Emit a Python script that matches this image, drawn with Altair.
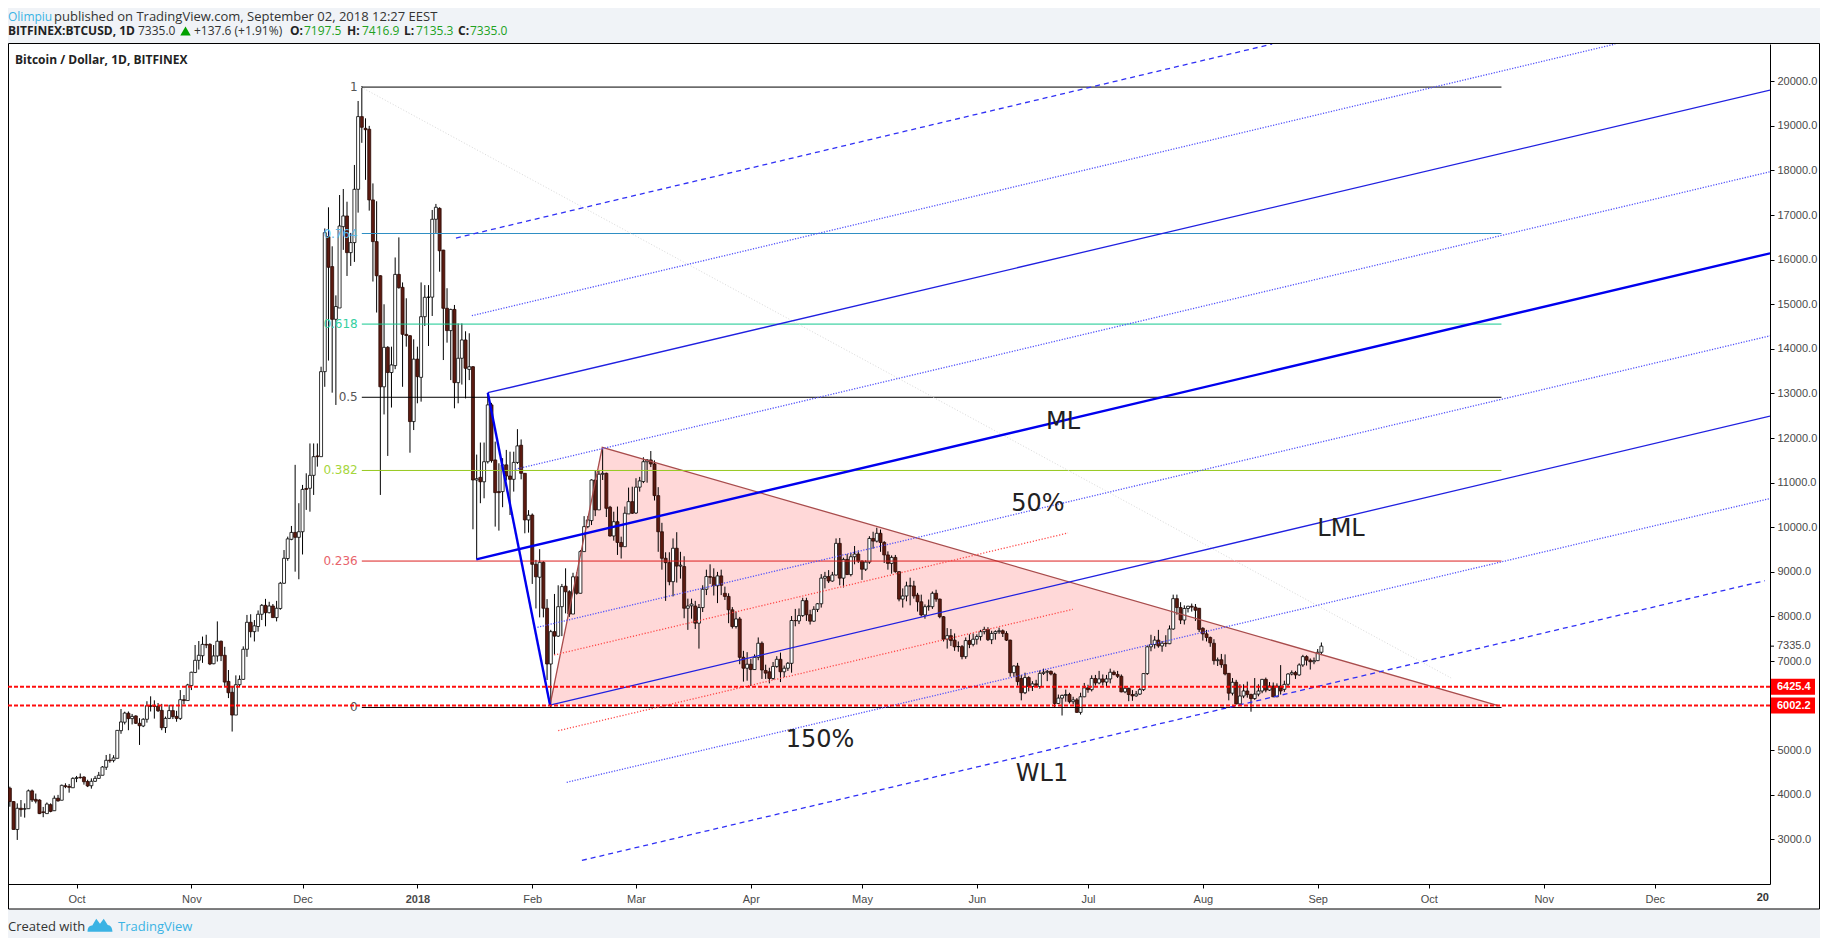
import altair as alt
import pandas as pd

# ---------- daily candles: (open, high, low, close), first bar 2017-09-13 ----------
sep17 = [(4150,4185,3735,3850),(3850,3860,3225,3225),(3225,3810,2990,3700),(3700,3885,3510,3670),(3680,3810,3490,3690),
(3690,4120,3690,4090),(4090,4120,3840,3885),(3900,4030,3810,3860),(3885,3900,3570,3580),(3620,3730,3500,3605),
(3580,3830,3580,3795),(3780,3810,3610,3630),(3645,3985,3645,3925),(3925,4000,3850,3865),(3880,4230,3880,4215),
(4205,4260,4150,4185),(4190,4245,4050,4170),(4160,4395,4160,4370)]
oct17 = [(4370,4425,4285,4385),(4395,4480,4365,4385),(4400,4420,4230,4295),(4300,4340,4175,4200),(4205,4370,4140,4305),
(4305,4425,4290,4370),(4370,4515,4365,4440),(4440,4645,4440,4625),(4620,4895,4560,4775),(4780,4920,4720,4765),
(4775,4890,4730,4828),(4820,5450,4820,5447),(5440,5925,5370,5635),(5630,5865,5580,5835),(5830,5870,5450,5710),
(5710,5815,5580,5760),(5770,5785,5590,5605),(5605,5720,5120,5550),(5545,5720,5520,5695),(5695,6100,5620,6000),
(6000,6210,5870,5985),(5990,6120,5710,5985),(5990,6060,5860,5885),(5895,6040,5450,5505),(5510,5755,5390,5715),
(5715,6020,5700,5890),(5890,6015,5700,5755),(5760,5885,5640,5715),(5715,6350,5680,6135),(6135,6240,6030,6115),
(6115,6490,6115,6465)]
nov17 = [(6450,6760,6350,6750),(6745,7361,6730,7017),(7017,7450,6810,7130),(7120,7550,6960,7375),(7375,7590,7290,7360),
(7375,7400,6910,6935),(6940,7360,6930,7115),(7115,7890,6990,7445),(7445,7460,7000,7120),(7130,7320,6430,6530),
(6545,6800,6170,6290),(6300,6430,5420,5790),(5790,6680,5790,6470),(6470,6680,6420,6590),(6590,7330,6580,7265),
(7265,8035,7095,7870),(7870,8050,7530,7660),(7660,7920,7440,7790),(7775,8135,7660,8050),(8050,8280,7920,8250),
(8250,8395,7780,8085),(8085,8330,8070,8235),(8235,8280,7975,7975),(7975,8350,7890,8185),(8180,8775,8150,8745),
(8745,9490,8730,9305),(9300,9790,9250,9740),(9730,10030,9710,9885),(9885,11400,9005,9775),(9775,10540,8835,9900)]
dec17 = [(9900,10950,9390,10850),(10870,11210,10390,10850),(10875,11880,10350,11165),(11165,11880,10725,11583),(11600,11880,11360,11583),
(11583,13600,11583,13490),(13490,16700,13150,16606),(16516,17174,13738,15830),(15845,16300,13018,14663),(14663,15200,12743,14950),
(14917,17450,14917,16755),(16740,17585,16220,16980),(16980,17300,15635,16158),(16158,16600,15860,16383),(16383,18124,15950,17578),
(17578,19558,17055,19208),(19208,19891,18620,18969),(18945,19170,17790,18915),(18925,19000,17100,17340),(17340,17710,15510,16405),
(16405,17310,14815,15640),(15640,15650,10725,13150),(13150,15000,12530,14035),(14035,14060,11600,13470),(13470,14050,12685,13640),
(13625,16050,13545,15670),(15670,16500,15350,15372),(15380,15490,13150,14327),(14325,15135,14050,14300),(14295,14310,11672,12370),
(12370,14215,12180,13770)]
jan18 = [(13770,14050,12780,13378),(13362,15490,12817,14722),(14722,15430,14514,15157),(15157,15430,14065,15160),(15160,17115,14738,16906),
(16906,17250,16600,17175),(17150,17175,15730,16200),(16215,16220,13750,14910),(14910,15360,14140,14410),(14410,14900,13300,14885),
(14885,14985,12668,13243),(13243,14570,12780,13790),(13790,14570,13200,14200),(14200,14395,12890,13565),(13540,14350,13300,13600),
(13600,13615,9955,11060),(11060,11630,9281,11090),(11120,11900,10540,11020),(11020,11900,10650,11470),(11470,13000,11430,12745),
(12745,12790,11450,11495),(11510,11920,10015,10777),(10800,11435,9925,10777),(10800,11550,10450,11400),(11400,11735,11050,11150),
(11150,11695,10275,11075),(11075,11695,10800,11455),(11455,12200,11420,11825),(11840,11970,11075,11210),(11210,11210,9865,10165),
(10165,10385,9880,10270)]
feb18 = [(10275,10310,8730,9170),(9170,9270,8180,8890),(8880,9510,7980,9215),(9215,9240,7980,8185),(8185,8390,6575,6935),
(6935,7700,5970,7660),(7660,8505,7135,7560),(7560,8700,7540,8220),(8220,8730,7560,8670),(8680,9080,8070,8555),
(8555,8590,7990,8055),(8055,8980,8055,8890),(8890,8990,8490,8520),(8520,9490,8520,9455),(9455,10250,9455,10015),
(10015,10250,9980,10165),(10150,11075,10050,11060),(11060,11270,10250,10390),(10390,11270,10390,11190),(11190,11770,11060,11210),
(11210,11225,10230,10425),(10450,10480,9790,9805),(9805,10350,9700,10125),(10125,10465,9380,9660),(9660,9790,9300,9565),
(9565,10465,9565,10315),(10300,10890,10300,10575),(10575,10910,10300,10315)]
mar18 = [(10320,11100,10300,10900),(10900,11130,10800,11040),(11025,11570,10990,11470),(11470,11530,11000,11510),(11510,11710,11350,11420),
(11420,11500,10600,10710),(10710,10900,9450,9900),(9900,10100,9050,9305),(9305,9440,8350,9207),(9207,9440,8700,8780),
(8780,9750,8450,9530),(9530,9890,8760,9130),(9130,9450,8850,9150),(9120,9350,7960,8185),(8185,8400,7700,8235),
(8240,8400,7950,8280),(8235,8350,7720,7850),(7850,8280,7280,8200),(8200,8700,8100,8610),(8610,9050,8480,8895),
(8895,9170,8730,8880),(8880,9080,8470,8690),(8690,9000,8300,8910),(8910,9050,8480,8700),(8520,8670,8370,8450),
(8450,8520,7850,8150),(8150,8210,7730,7775),(7775,8110,7730,7945),(7945,7990,6930,7085),(7085,7230,6540,6840),
(6840,7200,6560,6930)]
apr18 = [(6930,7050,6440,6810),(6810,7150,6800,7085),(7085,7530,7020,7400),(7400,7440,6600,6800),(6790,6920,6600,6730),
(6760,6850,6500,6610),(6610,6980,6580,6880),(6880,7110,6850,7040),(7040,7190,6530,6760),(6760,6900,6640,6840),
(6840,6980,6780,6950),(6950,8010,6740,7910),(7910,8170,7780,7905),(7900,8180,7830,8020),(8020,8420,7990,8355),
(8355,8420,7900,8040),(8040,8150,7820,7895),(7895,8230,7880,8160),(8160,8300,8100,8285),(8285,8950,8200,8860),
(8860,9000,8630,8900),(8895,9040,8750,8795),(8795,9000,8780,8930),(8930,9750,8920,9640),(9640,9760,8700,8860),
(8860,9320,8650,9280),(9280,9400,8930,8940),(8940,9430,8900,9340),(9340,9580,9170,9400),(9400,9480,9200,9240)]
may18 = [(9240,9260,8820,9060),(9060,9260,9020,9220),(9220,9800,9180,9750),(9750,9900,9520,9690),(9690,9990,9660,9865),
(9865,9950,9450,9660),(9660,9690,9200,9380),(9380,9460,9050,9190),(9190,9370,8960,9325),(9325,9380,8980,9005),
(9005,9010,8340,8390),(8390,8630,8200,8460),(8460,8780,8340,8685),(8685,8870,8250,8685),(8685,8800,8400,8460),
(8480,8530,8110,8330),(8330,8490,8000,8035),(8035,8270,7950,8220),(8220,8380,8130,8235),(8220,8560,8170,8520),
(8520,8600,8330,8390),(8390,8400,7960,7995),(7995,8010,7440,7490),(7490,7740,7280,7570),(7570,7720,7340,7460),
(7470,7620,7230,7320),(7325,7440,7210,7325),(7325,7360,7040,7100),(7100,7530,7050,7460),(7460,7600,7290,7375),
(7375,7620,7330,7490)]
jun18 = [(7490,7600,7370,7550),(7550,7700,7460,7660),(7660,7770,7600,7710),(7710,7760,7450,7480),(7480,7680,7380,7620),
(7620,7690,7480,7660),(7660,7750,7610,7680),(7680,7710,7540,7620),(7620,7670,7450,7470),(7470,7480,6650,6740),
(6740,6900,6650,6890),(6890,6960,6450,6540),(6610,6690,6120,6290),(6290,6740,6260,6630),(6630,6660,6320,6430),
(6430,6550,6330,6490),(6490,6580,6420,6460),(6430,6790,6380,6725),(6725,6830,6690,6750),(6750,6800,6550,6770),
(6770,6790,6680,6710),(6710,6740,5970,6050),(6050,6250,6040,6170),(6170,6250,5780,6230),(6230,6360,6090,6250),
(6250,6290,6050,6090),(6090,6200,6030,6130),(6130,6170,5840,5850),(5850,6290,5800,6200),(6200,6510,6190,6400)]
jul18 = [(6400,6470,6290,6360),(6360,6680,6320,6610),(6610,6690,6450,6510),(6510,6780,6480,6600),(6600,6700,6450,6530),
(6530,6690,6440,6600),(6600,6830,6500,6750),(6750,6790,6680,6700),(6700,6780,6620,6660),(6660,6700,6300,6310),
(6310,6420,6280,6390),(6390,6400,6100,6250),(6250,6350,6110,6220),(6220,6330,6200,6260),(6260,6400,6240,6360),
(6360,6720,6330,6720),(6720,7350,6690,7320),(7320,7590,7220,7370),(7370,7560,7280,7470),(7470,7700,7300,7340),
(7340,7450,7210,7400),(7400,7580,7320,7390),(7390,7800,7380,7720),(7720,8490,7700,8400),(8400,8490,8040,8200),
(8200,8320,7830,7920),(7920,8250,7820,8180),(8180,8240,8090,8230),(8230,8290,8110,8210),(8210,8280,7900,8140),
(8185,8190,7650,7710)]
aug18 = [(7735,7760,7460,7610),(7610,7700,7440,7530),(7530,7550,7320,7410),(7400,7490,6920,7010),(7010,7080,6890,7030),
(7030,7160,6850,6920),(6920,7150,6680,6710),(6725,6730,6120,6280),(6280,6620,6230,6525),(6525,6580,6030,6040),
(6040,6480,6000,6217),(6217,6480,6170,6330),(6330,6540,6180,6250),(6250,6270,5865,6160),(6160,6620,6130,6260),
(6260,6480,6210,6330),(6330,6600,6280,6590),(6590,6630,6300,6350),(6350,6530,6330,6440),(6440,6520,6190,6200),
(6200,6500,6190,6440),(6440,6910,6250,6330),(6367,6560,6310,6478),(6480,6730,6440,6710),(6710,6790,6680,6741),
(6741,6780,6600,6690),(6690,6950,6670,6913),(6913,7140,6870,7100),(7100,7130,6900,7020),(7020,7060,6810,6985),
(6985,7080,6930,7010)]
sep18 = [(7010,7270,7000,7197.5),(7197.5,7416.9,7135.3,7335.0)]

# ---------- drawings: (days after 2017-10-01, price) ----------
fib_levels = [1, 0.764, 0.618, 0.5, 0.382, 0.236, 0]
fib_prices = [19870, 16587, 14556, 12915, 11274, 9243, 5960]
fib_lines = ["#000000", "#2f8fc4", "#14c98f", "#000000", "#96c81e", "#dc2020", "#000000"]
fib_texts = ["#555555", "#5cb6e6", "#35cfa0", "#555555", "#a6d63c", "#e8636b", "#555555"]
fib_span = [77, 384.6]

fork_dashed = [[(102.4,16486),(322.7,20835)], [(136.4,2531),(455.7,8802)]]
fork_dotted = [[(106.7,14744),(415.3,20835)], [(118.4,11300),(457.1,17972)], [(124.4,7758),(457.1,14293)], [(132.3,4282),(457.1,10645)]]
fork_solid = [[(111.0,13017),(457.1,19804)], [(127.8,6015),(457.1,12495)]]
fork_median = [[(107.9,9282),(457.1,16143)], [(111.0,13017),(127.8,6015)]]
red_dotted = [[(128.9,7137),(267.6,9872)], [(130.0,5439),(268.9,8161)]]
gray_diag = [[(76.8,19870),(371,6621)]]
wedge = [(127.8,6015),(141.9,11793),(383.7,6004)]
support_levels = [6425.4, 6002.2]
last_price = 7335.0

y_ticks = [3000,4000,5000,7000,8000,9000,10000,11000,12000,13000,14000,15000,16000,17000,18000,19000,20000]
months = [(2017,10),(2017,11),(2017,12),(2018,1),(2018,2),(2018,3),(2018,4),(2018,5),(2018,6),(2018,7),(2018,8),(2018,9),(2018,10),(2018,11),(2018,12)]

annotations = [("ML",1063,422),("50%",1038,504),("LML",1341,529),("150%",820,740),("WL1",1042,774)]

# ---------- build tables ----------
T0 = pd.Timestamp("2017-10-01")
def when(o):
    return (T0 + pd.Timedelta(days=o)).strftime("%Y-%m-%dT%H:%M:%S")

rows = sep17+oct17+nov17+dec17+jan18+feb18+mar18+apr18+may18+jun18+jul18+aug18+sep18
candles = pd.DataFrame(rows, columns=["o","h","l","c"])
candles["t"] = [when(i-18) for i in range(len(rows))]
candles["lo"] = candles[["o","c"]].min(axis=1)
candles["hi"] = candles[["o","c"]].max(axis=1)
candles["up"] = candles["c"] >= candles["o"]

def segs(items):
    out = []
    for k, s in enumerate(items):
        for o, v in s:
            out.append({"t": when(o), "v": v, "k": k})
    return alt.Data(values=out)

xs = alt.Scale(domain=[alt.DateTime(year=2017,month=9,date=12,hours=12), alt.DateTime(year=2019,month=1,date=1,hours=2)], nice=False, padding=0)
ys = alt.Scale(domain=[2002, 20836], nice=False, zero=False, padding=0)
AX = alt.Axis(values=[alt.DateTime(year=y, month=m, date=1) for y, m in months],
              labelExpr="month(datum.value)==0 ? '2018' : timeFormat(datum.value,'%b')",
              labelFontWeight={"condition":{"test":"month(datum.value)==0","value":"bold"},"value":"normal"},
              grid=False, domainColor="black", tickColor="black", tickSize=4, zindex=1,
              labelColor="#4a4a4a", labelFont="Liberation Sans", labelFontSize=11,
              labelPadding=5, labelOverlap=False, labelFlush=False, title=None)
AY = alt.Axis(orient="right", values=y_ticks, format=".1f", grid=False, domainColor="black",
              tickColor="black", tickSize=4, zindex=1, labelColor="#4a4a4a", labelFont="Liberation Sans",
              labelFontSize=11, labelPadding=3, labelOverlap=False, title=None)
X = alt.X("t:T", scale=xs, axis=AX, title=None)
Y = alt.Y("v:Q", scale=ys, axis=AY, title=None)

def lines(items, color, width=1.0, dash=None, opacity=1.0):
    kw = dict(color=color, strokeWidth=width, clip=True, opacity=opacity)
    if dash:
        kw["strokeDash"] = dash
    return alt.Chart(segs(items)).mark_line(**kw).encode(x=X, y=Y, detail="k:N")

EMPTY = alt.Data(values=[{"a":1}])
PX0, PY0 = 8, 44
def label(text, x, y, align="left", size=13, color="#333333", weight="normal", font="Open Sans"):
    return alt.Chart(EMPTY).mark_text(align=align, baseline="middle", fontSize=size, color=color, fontWeight=weight, font=font).encode(
        x=alt.value(x-PX0), y=alt.value(y-PY0), text=alt.value(text))

frame = alt.Chart(EMPTY).mark_rect(fill="white", stroke="black", strokeWidth=1).encode(
    x=alt.value(0.5), x2=alt.value(1811.5), y=alt.value(-0.5), y2=alt.value(865))

# wedge fill + edges
wedge_df = pd.DataFrame({"t":[when(o) for o,_ in wedge], "v":[v for _,v in wedge], "b":[wedge[0][1], wedge[0][1], wedge[2][1]]})
wedge_fill = alt.Chart(wedge_df).mark_area(color="#ffd8d8", clip=True).encode(x=X, y=Y, y2="b:Q")
wedge_edge = lines([wedge], "#a84c4c", 1.3)

# candles
wick = alt.Chart(candles).mark_rule(color="black", strokeWidth=1, clip=True).encode(
    x=X, y=alt.Y("h:Q", scale=ys, axis=AY, title=None), y2="l:Q")
body = alt.Chart(candles).mark_bar(width=3, strokeWidth=0.8, clip=True).encode(
    x=X, y=alt.Y("hi:Q", scale=ys, axis=AY, title=None), y2="lo:Q",
    fill=alt.condition("datum.up", alt.value("white"), alt.value("#5c1a10")),
    stroke=alt.condition("datum.up", alt.value("black"), alt.value("#2a0a05")))

# fib
fib_df = pd.DataFrame({"v":fib_prices,"c":fib_lines,"tc":fib_texts,"s":[str(l) for l in fib_levels],
                       "t":[when(fib_span[0])]*7,"t2":[when(fib_span[1])]*7,"tl":[when(75.9)]*7})
fib_rule = alt.Chart(fib_df).mark_rule(strokeWidth=1, clip=True).encode(
    x=X, x2="t2:T", y=Y, color=alt.Color("c:N", scale=None))
fib_text = alt.Chart(fib_df).mark_text(align="right", baseline="middle", font="DejaVu Sans", fontSize=12).encode(
    x=alt.X("tl:T", scale=xs, axis=AX, title=None), y=Y, text="s:N", color=alt.Color("tc:N", scale=None))

# support levels
sup_df = pd.DataFrame({"v":support_levels,"s":["%.1f"%v for v in support_levels]})
sup_rule = alt.Chart(sup_df).mark_rule(color="#ff0000", strokeWidth=2, strokeDash=[4,2], opacity=0.95).encode(
    x=alt.value(0), x2=alt.value(1762), y=Y)
sup_box = alt.Chart(sup_df).mark_rect(color="#ff0000", width=45, height=16).encode(x=alt.value(1784.5), y=Y)
sup_text = alt.Chart(sup_df).mark_text(color="white", fontWeight="bold", font="Liberation Sans", fontSize=11, align="left", baseline="middle").encode(
    x=alt.value(1769), y=Y, text="s:N")

lp_df = pd.DataFrame({"v":[last_price],"s":["%.1f"%last_price]})
lp_box = alt.Chart(lp_df).mark_rect(color="white", width=48, height=18).encode(x=alt.value(1785), y=Y)
lp_tick = alt.Chart(lp_df).mark_rule(color="black", strokeWidth=1).encode(x=alt.value(1762), x2=alt.value(1766), y=Y)
lp_text = alt.Chart(lp_df).mark_text(color="#4a4a4a", font="Liberation Sans", fontSize=11, align="left", baseline="middle").encode(
    x=alt.value(1769), y=Y, text="s:N")

notes = [label(t, x, y, align="center", size=24, color="#222222", font="DejaVu Sans") for t, x, y in annotations]

GREEN = "#21a121"
BLUE = "#3bb3e4"
HF = "Open Sans"
S = 12
SB = 12
TOP = 17
header = [
    label("Olimpiu", 8, TOP, color=BLUE, size=12, font=HF),
    label("published on TradingView.com, September 02, 2018 12:27 EEST", 54, TOP, color="#333333", size=13, font=HF),
    label("BITFINEX:BTCUSD, 1D", 8, 31, color="#222222", weight="bold", size=SB, font=HF),
    label("7335.0", 138, 31, size=S, font=HF),
    label("+137.6 (+1.91%)", 194, 31, size=S, font=HF),
    label("O:", 290, 31, weight="bold", color="#222222", size=SB, font=HF),
    label("7197.5", 304, 31, color=GREEN, size=S, font=HF),
    label("H:", 347, 31, weight="bold", color="#222222", size=SB, font=HF),
    label("7416.9", 362, 31, color=GREEN, size=S, font=HF),
    label("L:", 404, 31, weight="bold", color="#222222", size=SB, font=HF),
    label("7135.3", 416, 31, color=GREEN, size=S, font=HF),
    label("C:", 458, 31, weight="bold", color="#222222", size=SB, font=HF),
    label("7335.0", 470, 31, color=GREEN, size=S, font=HF),
    label("Bitcoin / Dollar, 1D, BITFINEX", 15, 60, color="#222222", weight="bold", size=12, font=HF),
    label("20", 1769, 898, align="right", weight="bold", color="#333333", size=11, font="Liberation Sans"),
    label("Created with", 8, 927, color="#333333", size=13, font=HF),
    label("TradingView", 118, 927, color=BLUE, size=13, font=HF),
]
up_arrow = alt.Chart(EMPTY).mark_point(shape="triangle-up", filled=True, color="#00a000", size=110, opacity=1).encode(
    x=alt.value(185.5-PX0), y=alt.value(31-PY0))
logo = alt.Chart(EMPTY).mark_point(
    shape="M-1,0.55 C-1,0.1 -0.75,0.05 -0.62,0.05 L-0.3,-0.5 L0,-0.1 L0.3,-0.5 L0.62,0.0 C0.85,0.0 1,0.25 1,0.55 Z",
    filled=True, color=BLUE, size=620, opacity=1).encode(x=alt.value(100-PX0), y=alt.value(925-PY0))

layers = [frame, wedge_fill, wick, body, wedge_edge, fib_rule, fib_text,
          lines(gray_diag, "#d8d8d8", 1, [1,2]),
          lines(fork_dashed, "#3030f5", 1.3, [5,4]),
          lines(fork_dotted, "#5050fa", 1.3, [1.2,1.5]),
          lines(fork_solid, "#2020e0", 1.3),
          lines(fork_median, "#0000ee", 2.4),
          lines(red_dotted, "#ff4848", 1.3, [1.2,1.8]),
          sup_rule, sup_box, sup_text, lp_box, lp_tick, lp_text] + notes + header + [up_arrow, logo]

chart = alt.layer(*layers).resolve_scale(color="independent").properties(
    width=1762, height=840,
    padding={"left":0,"top":36,"right":50,"bottom":54},
    autosize=alt.AutoSizeParams(type="none"),
    background="#f0f3f7",
).configure_view(stroke=None)

chart.save("out.html", embed_options={"renderer": "svg", "actions": False})
